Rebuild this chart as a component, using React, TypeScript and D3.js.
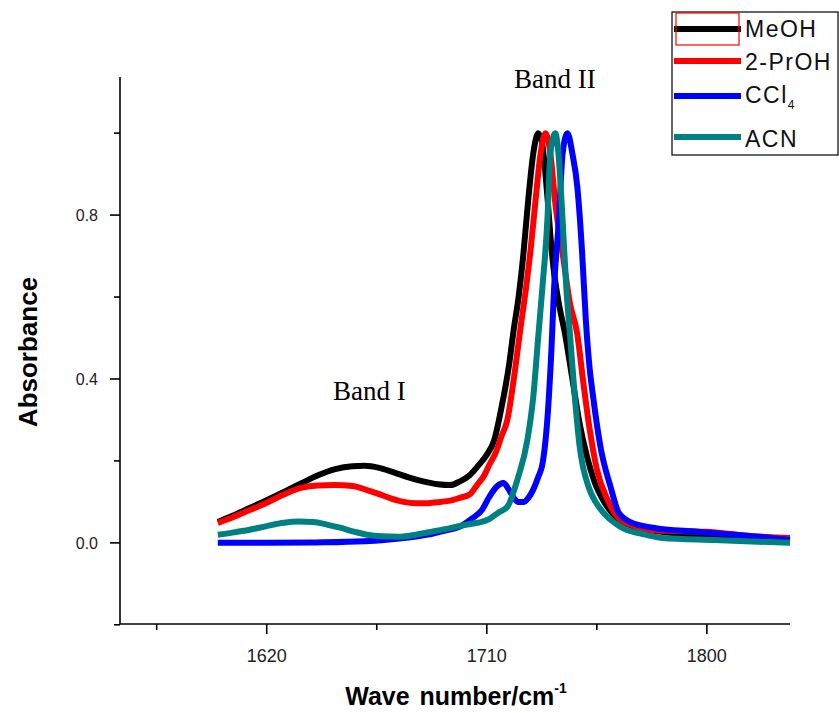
import React from "react";
import * as d3 from "d3";

// ---- data (wavenumber cm^-1, absorbance) ----
const meohWn = [1600, 1606, 1613, 1620, 1627, 1634, 1641, 1648, 1655, 1660, 1666, 1672, 1678, 1684, 1690, 1695, 1699, 1703, 1706, 1710, 1713, 1716, 1719, 1721, 1723, 1725, 1727, 1729, 1731, 1732.5, 1734, 1735, 1736, 1737.3, 1739.3, 1742, 1745, 1748, 1751, 1754, 1758, 1763, 1770, 1780, 1795, 1815, 1834];
const meohAbs = [0.051, 0.066, 0.085, 0.104, 0.124, 0.145, 0.165, 0.18, 0.187, 0.188, 0.183, 0.172, 0.16, 0.15, 0.143, 0.141, 0.15, 0.165, 0.185, 0.215, 0.25, 0.33, 0.43, 0.52, 0.6, 0.707, 0.84, 0.95, 1.0, 0.98, 0.9, 0.83, 0.75, 0.67, 0.59, 0.51, 0.4, 0.29, 0.21, 0.15, 0.1, 0.062, 0.04, 0.028, 0.02, 0.013, 0.01];

const prohWn = [1600, 1606, 1613, 1620, 1627, 1634, 1641, 1648, 1655, 1661, 1666, 1671, 1676, 1681, 1686, 1691, 1695, 1699, 1703, 1706, 1709, 1711, 1714, 1716, 1718.4, 1721, 1723.7, 1726, 1728, 1730, 1732, 1734, 1736, 1738, 1741, 1744, 1747, 1749.5, 1752, 1755, 1759.4, 1763.5, 1770, 1780, 1800, 1815, 1834];
const prohAbs = [0.049, 0.062, 0.08, 0.098, 0.118, 0.134, 0.14, 0.141, 0.139, 0.129, 0.119, 0.108, 0.1, 0.097, 0.097, 0.1, 0.103, 0.11, 0.118, 0.141, 0.165, 0.19, 0.225, 0.26, 0.3, 0.398, 0.52, 0.62, 0.72, 0.84, 0.95, 1.0, 0.95, 0.83, 0.707, 0.585, 0.51, 0.39, 0.28, 0.18, 0.105, 0.063, 0.042, 0.03, 0.027, 0.018, 0.012];

const cclWn = [1600, 1620, 1640, 1660, 1668, 1678, 1686, 1693, 1699, 1704, 1708, 1711, 1714, 1716.8, 1719, 1721, 1723, 1725, 1727, 1729, 1731, 1733, 1735, 1736.5, 1737.5, 1739.5, 1741, 1743, 1745, 1747, 1749, 1750.5, 1752, 1753.5, 1756.5, 1760.6, 1764, 1769, 1778, 1796, 1821, 1834];
const cclAbs = [0.0, 0.0, 0.001, 0.004, 0.007, 0.013, 0.02, 0.03, 0.04, 0.06, 0.08, 0.112, 0.137, 0.146, 0.13, 0.11, 0.1, 0.1, 0.11, 0.13, 0.16, 0.2, 0.32, 0.48, 0.62, 0.79, 0.95, 1.0, 0.95, 0.87, 0.707, 0.544, 0.43, 0.356, 0.234, 0.137, 0.073, 0.05, 0.037, 0.027, 0.015, 0.007];

const acnWn = [1600, 1606, 1613, 1620, 1627, 1633, 1639, 1645, 1650, 1656, 1661, 1667, 1674, 1681, 1688, 1695, 1702, 1707, 1711, 1715, 1718.4, 1722.5, 1726.6, 1729, 1731, 1732.7, 1734.8, 1736, 1738, 1739.3, 1741, 1742.5, 1744, 1746, 1748, 1751.6, 1754.5, 1757.8, 1762, 1767, 1772, 1782, 1803, 1834];
const acnAbs = [0.02, 0.025, 0.032, 0.041, 0.049, 0.052, 0.051, 0.044, 0.037, 0.027, 0.02, 0.016, 0.015, 0.02, 0.028, 0.036, 0.045, 0.05, 0.058, 0.075, 0.088, 0.154, 0.251, 0.356, 0.5, 0.62, 0.79, 0.95, 1.0, 0.95, 0.788, 0.624, 0.51, 0.356, 0.234, 0.137, 0.1, 0.073, 0.05, 0.032, 0.024, 0.012, 0.007, 0.0];

const seriesNames = ["MeOH", "2-PrOH", "CCl4", "ACN"];
const seriesColors = ["#000000", "#ff0000", "#0000ff", "#008080"];
const seriesWn = [meohWn, prohWn, cclWn, acnWn];
const seriesAbs = [meohAbs, prohAbs, cclAbs, acnAbs];

const xMajorTicks = [1620, 1710, 1800];
const xMinorTicks = [1575, 1665, 1755];
const yMajorTicks = [0.0, 0.4, 0.8];
const yMinorTicks = [-0.2, 0.2, 0.6, 1.0];

export default function App() {
  const W = 839;
  const H = 713;
  const x = d3.scaleLinear().domain([1560, 1834]).range([120, 790]);
  const y = d3.scaleLinear().domain([-0.198, 1.137]).range([624, 77]);
  const line = d3
    .line<[number, number]>()
    .x((d) => x(d[0]))
    .y((d) => y(d[1]))
    .curve(d3.curveMonotoneX);

  const axisX0 = x(1560);
  const axisY0 = y(-0.198);

  const legendRows = [
    { ly: 29, ty: 37 },
    { ly: 61, ty: 70 },
    { ly: 96, ty: 103 },
    { ly: 137, ty: 147 },
  ];

  return (
    <svg
      width={W}
      height={H}
      style={{ position: "absolute", left: 0, top: 0, background: "#fff" }}
    >
      <rect x={0} y={0} width={W} height={H} fill="#fff" />
      {/* curves */}
      {seriesNames.map((n, i) => {
        const pts = seriesWn[i].map((w, j) => [w, seriesAbs[i][j]] as [number, number]);
        return (
          <path
            key={n}
            d={line(pts) || ""}
            fill="none"
            stroke={seriesColors[i]}
            strokeWidth={6}
            strokeLinejoin="round"
            strokeLinecap="butt"
          />
        );
      })}

      {/* axes */}
      <g stroke="#000" strokeWidth={1.6} fill="none">
        <line x1={axisX0} y1={y(1.137)} x2={axisX0} y2={axisY0} />
        <line x1={axisX0} y1={axisY0} x2={x(1834)} y2={axisY0} />
        {yMajorTicks.map((t) => (
          <line key={"ym" + t} x1={axisX0 - 10} x2={axisX0} y1={y(t)} y2={y(t)} />
        ))}
        {yMinorTicks.map((t) => (
          <line key={"yn" + t} x1={axisX0 - 6} x2={axisX0} y1={y(t)} y2={y(t)} />
        ))}
        {xMajorTicks.map((t) => (
          <line key={"xm" + t} x1={x(t)} x2={x(t)} y1={axisY0} y2={axisY0 + 10} />
        ))}
        {xMinorTicks.map((t) => (
          <line key={"xn" + t} x1={x(t)} x2={x(t)} y1={axisY0} y2={axisY0 + 6} />
        ))}
      </g>
      <g fontFamily="'Liberation Sans', Arial, sans-serif" fill="#222">
        {yMajorTicks.map((t) => (
          <text key={"yl" + t} x={98} y={y(t) + 6} fontSize={16} textAnchor="end">
            {t.toFixed(1)}
          </text>
        ))}
        {xMajorTicks.map((t) => (
          <text key={"xl" + t} x={x(t)} y={662} fontSize={18} textAnchor="middle">
            {t}
          </text>
        ))}
      </g>

      {/* axis titles */}
      <text
        x={456}
        y={705}
        fontFamily="'Liberation Sans', Arial, sans-serif"
        fontWeight="bold"
        fontSize={25}
        textAnchor="middle"
        fill="#000"
        wordSpacing={3}
      >
        Wave number/cm
        <tspan fontSize={14} dy={-12}>-1</tspan>
      </text>
      <text
        transform="translate(37,352) rotate(-90)"
        fontFamily="'Liberation Sans', Arial, sans-serif"
        fontWeight="bold"
        fontSize={26}
        textAnchor="middle"
        fill="#000"
      >
        Absorbance
      </text>

      {/* annotations */}
      <g fontFamily="'Liberation Serif', 'Times New Roman', serif" fontSize={27} fill="#000">
        <text x={333} y={400}>Band I</text>
        <text x={514} y={88}>Band II</text>
      </g>

      {/* legend */}
      <rect x={672} y={12} width={166} height={143} fill="#fff" stroke="#000" strokeWidth={1.2} />
      {seriesNames.map((n, i) => (
        <g key={"lg" + n}>
          <line
            x1={674}
            x2={741}
            y1={legendRows[i].ly}
            y2={legendRows[i].ly}
            stroke={seriesColors[i]}
            strokeWidth={6}
          />
          <text
            x={745}
            y={legendRows[i].ty}
            fontFamily="'Liberation Sans', Arial, sans-serif"
            fontSize={23}
            letterSpacing={1.5}
            fill="#111"
          >
            {n === "CCl4" ? (
              <>
                CCl<tspan fontSize={12} dy={6}>4</tspan>
              </>
            ) : (
              n
            )}
          </text>
        </g>
      ))}
      <rect x={676} y={13} width={63} height={32} fill="none" stroke="#ff0000" strokeWidth={1.2} />
    </svg>
  );
}
